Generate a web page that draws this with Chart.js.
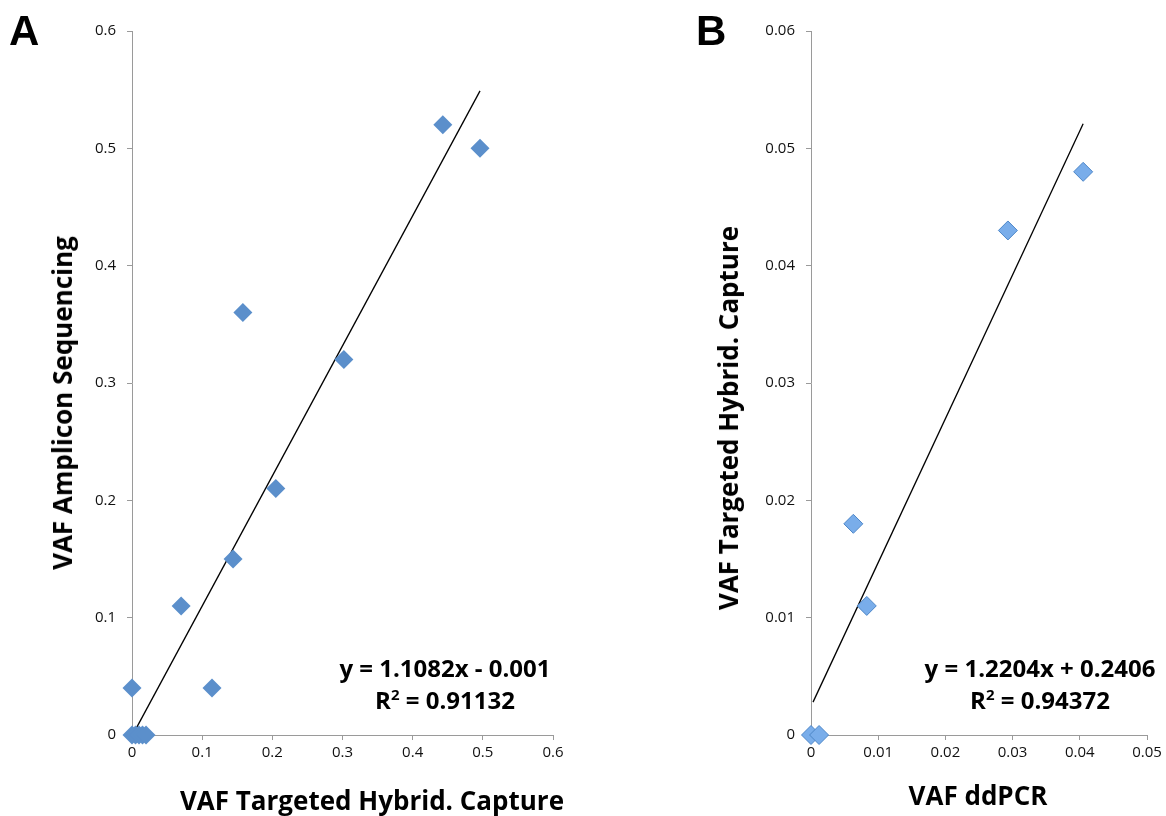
<!DOCTYPE html>
<html>
<head>
<meta charset="utf-8">
<script src="https://cdn.jsdelivr.net/npm/chart.js@4.4.1/dist/chart.umd.min.js"></script>
<style>
  html, body { margin: 0; padding: 0; background: #fff; }
  body { width: 1166px; height: 816px; position: relative; overflow: hidden; font-family: "Open Sans", "Liberation Sans", sans-serif; }
  .box { position: absolute; top: 0; height: 816px; }
  .lbl { position: absolute; font-weight: bold; color: #000; white-space: nowrap; }
  .panel { font-size: 42px; font-family: "Liberation Sans", Arial, sans-serif; line-height: 1; }
  .eq { font-size: 24px; text-align: center; line-height: 32px; }
  .ttl { font-size: 26px; line-height: 1; transform: translate(-50%, -50%); }
  .ttl.rot { transform: translate(-50%, -50%) rotate(-90deg); }
</style>
</head>
<body>
<div class="box" style="left:0;width:580px"><canvas id="cA"></canvas></div>
<div class="box" style="left:690px;width:476px"><canvas id="cB"></canvas></div>
<div class="lbl panel" style="left:9px;top:10px">A</div>
<div class="lbl panel" style="left:696px;top:10px">B</div>
<div class="lbl eq" style="left:325px;top:652px;width:240px">y = 1.1082x - 0.001<br>R<sup style="font-size:15px;line-height:0">2</sup> = 0.91132</div>
<div class="lbl eq" style="left:905px;top:652px;width:270px">y = 1.2204x + 0.2406<br>R<sup style="font-size:15px;line-height:0">2</sup> = 0.94372</div>
<div class="lbl ttl" style="left:372px;top:800px">VAF Targeted Hybrid. Capture</div>
<div class="lbl ttl rot" style="left:62px;top:403px">VAF Amplicon Sequencing</div>
<div class="lbl ttl" style="left:978px;top:795px">VAF ddPCR</div>
<div class="lbl ttl rot" style="left:728px;top:418px">VAF Targeted Hybrid. Capture</div>
<script>
// Panel A: VAF Targeted Hybrid. Capture (x) vs VAF Amplicon Sequencing (y)
const aX = [0.443, 0.496, 0.158, 0.302, 0.205, 0.144, 0.070, 0.114, 0.000, 0.000, 0.005, 0.010, 0.015, 0.020];
const aY = [0.52, 0.50, 0.36, 0.32, 0.21, 0.15, 0.11, 0.04, 0.04, 0.00, 0.00, 0.00, 0.00, 0.00];
const aTrendX = [0.0, 0.496];
const aTrendY = [-0.001, 0.549];
const aTicks = [0, 0.1, 0.2, 0.3, 0.4, 0.5, 0.6];

// Panel B: VAF ddPCR (x) vs VAF Targeted Hybrid. Capture (y)
const bX = [0.0405, 0.0293, 0.0063, 0.0083, 0.0000, 0.0012];
const bY = [0.048, 0.043, 0.018, 0.011, 0.000, 0.000];
const bTrendX = [0.0003, 0.0405];
const bTrendY = [0.0028, 0.0521];
const bXTicks = [0, 0.01, 0.02, 0.03, 0.04, 0.05];
const bYTicks = [0, 0.01, 0.02, 0.03, 0.04, 0.05, 0.06];

const zip = (xs, ys) => xs.map((x, i) => ({ x: x, y: ys[i] }));
const tickFont = { family: "'Open Sans', 'Liberation Sans', sans-serif", size: 15 };
const axisGrey = '#9a9a9a';

function makeChart(id, opts) {
  const ctx = document.getElementById(id);
  ctx.width = opts.w; ctx.height = 816;
  ctx.style.width = opts.w + 'px'; ctx.style.height = '816px';
  return new Chart(ctx, {
    type: 'scatter',
    data: {
      datasets: [
        {
          data: zip(opts.px, opts.py),
          pointStyle: 'rectRot',
          pointRadius: 9.5,
          pointHoverRadius: 9.5,
          backgroundColor: opts.color,
          borderColor: opts.border,
          borderWidth: opts.bw,
          clip: false,
          order: 1
        },
        {
          type: 'line',
          data: zip(opts.tx, opts.ty),
          borderColor: '#000',
          borderWidth: 1.3,
          pointRadius: 0,
          fill: false,
          clip: false,
          order: 2
        }
      ]
    },
    options: {
      responsive: false,
      animation: false,
      devicePixelRatio: 1,
      layout: { padding: { top: 31, right: opts.padR, bottom: 0, left: 0 } },
      plugins: { legend: { display: false }, tooltip: { enabled: false } },
      scales: {
        x: {
          type: 'linear',
          min: 0, max: opts.xmax,
          afterBuildTicks: s => { s.ticks = opts.xTicks.map(v => ({ value: v })); },
          afterFit: s => { s.height = 81; },
          border: { display: true, color: axisGrey, width: 1 },
          grid: { display: true, drawOnChartArea: false, drawTicks: true, tickLength: 5, color: axisGrey },
          ticks: { font: tickFont, color: '#111', padding: 4, maxRotation: 0, autoSkip: false,
                   callback: v => String(+v.toFixed(3)) },
          title: { display: false }
        },
        y: {
          type: 'linear',
          min: 0, max: opts.ymax,
          afterBuildTicks: s => { s.ticks = opts.yTicks.map(v => ({ value: v })); },
          afterFit: s => { s.width = opts.yW; },
          border: { display: true, color: axisGrey, width: 1 },
          grid: { display: true, drawOnChartArea: false, drawTicks: true, tickLength: 5, color: axisGrey },
          ticks: { font: tickFont, color: '#111', padding: 11, autoSkip: false,
                    callback: v => String(+v.toFixed(3)) },
          title: { display: false }
        }
      }
    }
  });
}

makeChart('cA', {
  w: 580, padR: 27, yW: 132, xmax: 0.6, ymax: 0.6,
  px: aX, py: aY, tx: aTrendX, ty: aTrendY,
  xTicks: aTicks, yTicks: aTicks,
  color: '#5b8fcb', border: '#5b8fcb', bw: 0
});

makeChart('cB', {
  w: 476, padR: 19, yW: 121, xmax: 0.05, ymax: 0.06,
  px: bX, py: bY, tx: bTrendX, ty: bTrendY,
  xTicks: bXTicks, yTicks: bYTicks,
  color: '#79adea', border: '#4d86c8', bw: 1
});
</script>
</body>
</html>
